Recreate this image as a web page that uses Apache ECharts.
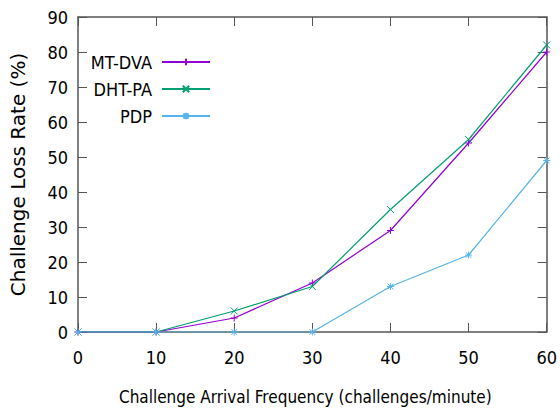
<!DOCTYPE html>
<html>
<head>
<meta charset="utf-8">
<script src="https://cdn.jsdelivr.net/npm/echarts@6/dist/echarts.min.js"></script>
<style>
  html, body { margin: 0; padding: 0; background: #fff; }
  #chart { width: 560px; height: 413px; }
</style>
</head>
<body>
<div id="chart"></div>
<script>
var xCats = [0, 10, 20, 30, 40, 50, 60];
var mtDva = [0, 0, 4, 14, 29, 54, 80];
var dhtPa = [0, 0, 6, 13, 35, 55, 82];
var pdp = [0, 0, 0, 0, 13, 22, 49];

var FONT = 'DejaVu Sans Condensed, DejaVu Sans, sans-serif';
var FONT_WIDE = 'DejaVu Sans, sans-serif';
var AXIS_COLOR = '#555555';

var SYM_PLUS = 'path://M0,5L10,5M5,0L5,10';
var SYM_CROSS = 'path://M0,0L10,10M0,10L10,0';
var SYM_STAR = 'path://M0,5L10,5M5,0L5,10M1,1L9,9M1,9L9,1';

function pairs(ys) {
  return xCats.map(function(x, i) { return [x, ys[i]]; });
}

function lineSeries(name, ys, color, symbol, z) {
  return {
    name: name, type: 'line', data: pairs(ys), z: z,
    symbol: symbol, symbolSize: 7, showSymbol: true,
    lineStyle: { color: color, width: 1.2 },
    itemStyle: { color: color, borderColor: color, borderWidth: 1 },
    emphasis: { disabled: true },
    animation: false
  };
}

function legendFor(name, top) {
  return {
    data: [name], right: 349, top: top, align: 'right',
    itemWidth: 48, itemHeight: 8, padding: 0,
    textStyle: { fontFamily: FONT, fontSize: 18, color: '#000', padding: [0, 5, 0, 0] },
    itemGap: 0, selectedMode: false
  };
}

var chart = echarts.init(document.getElementById('chart'), null, { renderer: 'svg' });
var tickInside = { show: true, inside: true, length: 9, lineStyle: { color: AXIS_COLOR, width: 1 } };
var axisLine = { show: true, onZero: false, lineStyle: { color: AXIS_COLOR, width: 1.5 } };

chart.setOption({
  backgroundColor: '#fff',
  animation: false,
  grid: { left: 78, right: 13, top: 17, bottom: 81, containLabel: false },
  legend: [legendFor('MT-DVA', 53), legendFor('DHT-PA', 80), legendFor('PDP', 107)],
  xAxis: [{
    type: 'value', min: 0, max: 60, interval: 10,
    name: 'Challenge Arrival Frequency (challenges/minute)',
    nameLocation: 'middle', nameGap: 56,
    nameTextStyle: { fontFamily: FONT, fontSize: 17, color: '#000', padding: [0, 14, 0, 0] },
    axisLine: axisLine, axisTick: tickInside, splitLine: { show: false },
    axisLabel: { fontFamily: FONT, fontSize: 18, color: '#000', margin: 16 }
  }, {
    type: 'value', min: 0, max: 60, interval: 10, position: 'top',
    axisLine: axisLine, axisTick: tickInside, splitLine: { show: false },
    axisLabel: { show: false }
  }],
  yAxis: [{
    type: 'value', min: 0, max: 90, interval: 10,
    name: 'Challenge Loss Rate (%)',
    nameLocation: 'middle', nameGap: 50, nameRotate: 90,
    nameTextStyle: { fontFamily: FONT_WIDE, fontSize: 20, color: '#000' },
    axisLine: axisLine, axisTick: tickInside, splitLine: { show: false },
    axisLabel: { fontFamily: FONT, fontSize: 18, color: '#000', margin: 10 }
  }, {
    type: 'value', min: 0, max: 90, interval: 10, position: 'right',
    axisLine: axisLine, axisTick: tickInside, splitLine: { show: false },
    axisLabel: { show: false }
  }],
  series: [
    lineSeries('MT-DVA', mtDva, '#9400d3', SYM_PLUS, 3),
    lineSeries('DHT-PA', dhtPa, '#009e73', SYM_CROSS, 4),
    lineSeries('PDP', pdp, '#56b4e9', SYM_STAR, 5)
  ]
});
</script>
</body>
</html>
